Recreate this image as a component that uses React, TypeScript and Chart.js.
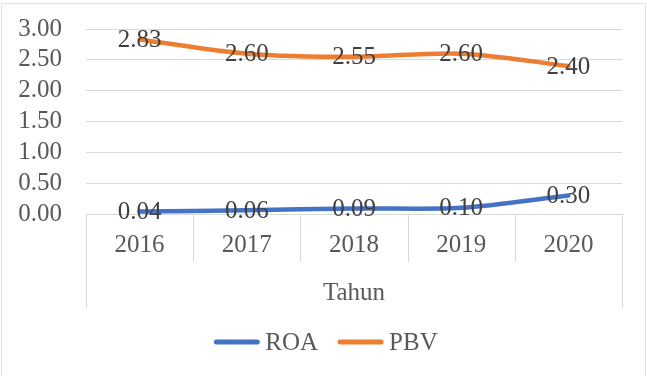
import React, { useEffect, useRef } from "react";
import { Chart, registerables } from "chart.js";

Chart.register(...registerables);

const years = ["2016", "2017", "2018", "2019", "2020"];
const roaValues = [0.04, 0.06, 0.09, 0.1, 0.3];
const pbvValues = [2.83, 2.6, 2.55, 2.6, 2.4];
const yTicks = [0, 0.5, 1, 1.5, 2, 2.5, 3];
const axisTitle = "Tahun";

const FONT = '"Liberation Serif", "Times New Roman", serif';
const TEXT = "#595959";
const GRID = "#d9d9d9";
const BLUE = "#4472C4";
const ORANGE = "#ED7D31";

// Plot area edges inside the 647x376 canvas
const PLOT_TOP = 29;
const PLOT_BOTTOM = 214;

// White background and a faint frame around the whole chart
const framePlugin = {
  id: "frame",
  beforeDraw(chart: any) {
    const { ctx, width, height } = chart;
    ctx.save();
    ctx.fillStyle = "#ffffff";
    ctx.fillRect(0, 0, width, height);
    ctx.strokeStyle = "#e2e2e2";
    ctx.lineWidth = 1;
    ctx.strokeRect(1.5, 3.5, 644, height + 20);
    ctx.restore();
  },
};

// Pin the plot area to fixed pixel edges after layout
const plotAreaPlugin = {
  id: "plotArea",
  afterLayout(chart: any) {
    const ca = chart.chartArea;
    ca.top = PLOT_TOP;
    ca.bottom = PLOT_BOTTOM;
    ca.height = PLOT_BOTTOM - PLOT_TOP;
    const y = chart.scales.y;
    y.top = PLOT_TOP;
    y.bottom = PLOT_BOTTOM;
    y.height = PLOT_BOTTOM - PLOT_TOP;
    y.configure();
    const x = chart.scales.x;
    x.top = PLOT_BOTTOM;
    x.bottom = chart.height;
    x.height = chart.height - PLOT_BOTTOM;
  },
};

// Category dividers under the axis; the outer two run down past the axis title
const dividersPlugin = {
  id: "dividers",
  afterDraw(chart: any) {
    const { ctx, chartArea } = chart;
    const x = chart.scales.x;
    const n = years.length;
    ctx.save();
    ctx.strokeStyle = GRID;
    ctx.lineWidth = 1;
    for (let i = 0; i <= n; i++) {
      let px: number;
      if (i === 0) px = x.left;
      else if (i === n) px = x.right;
      else px = (x.getPixelForValue(i - 1) + x.getPixelForValue(i)) / 2;
      const outer = i === 0 || i === n;
      const xr = Math.round(px) + 0.5;
      ctx.beginPath();
      ctx.moveTo(xr, chartArea.bottom);
      ctx.lineTo(xr, outer ? 308 : 262);
      ctx.stroke();
    }
    ctx.restore();
  },
};

// Value labels centred on each point
const valueLabelsPlugin = {
  id: "valueLabels",
  afterDatasetsDraw(chart: any) {
    const { ctx } = chart;
    ctx.save();
    ctx.font = `25px ${FONT}`;
    ctx.fillStyle = "#404040";
    ctx.textAlign = "center";
    ctx.textBaseline = "middle";
    chart.data.datasets.forEach((ds: any, di: number) => {
      const meta = chart.getDatasetMeta(di);
      meta.data.forEach((pt: any, i: number) => {
        ctx.fillText(Number(ds.data[i]).toFixed(2), pt.x, pt.y + 1);
      });
    });
    ctx.restore();
  },
};

// Legend with line swatches below the axis title
const legendPlugin = {
  id: "lineLegend",
  afterDraw(chart: any) {
    const { ctx } = chart;
    const items = chart.data.datasets.map((ds: any) => ({
      label: ds.label,
      color: ds.borderColor,
    }));
    const y = 342;
    const swatch = 45;
    const gapText = 6;
    const gapItem = 20;
    ctx.save();
    ctx.font = `25px ${FONT}`;
    const widths = items.map(
      (it: any) => swatch + gapText + ctx.measureText(it.label).width
    );
    const total =
      widths.reduce((a: number, b: number) => a + b, 0) +
      gapItem * (items.length - 1);
    let x = 326 - total / 2;
    items.forEach((it: any, i: number) => {
      ctx.strokeStyle = it.color;
      ctx.lineWidth = 5;
      ctx.lineCap = "round";
      ctx.beginPath();
      ctx.moveTo(x + 2, y);
      ctx.lineTo(x + swatch - 2, y);
      ctx.stroke();
      ctx.fillStyle = TEXT;
      ctx.textAlign = "left";
      ctx.textBaseline = "middle";
      ctx.fillText(it.label, x + swatch + gapText, y + 1);
      x += widths[i] + gapItem;
    });
    ctx.restore();
  },
};

export default function App() {
  const canvasRef = useRef<HTMLCanvasElement | null>(null);

  useEffect(() => {
    if (!canvasRef.current) return;
    const chart = new Chart(canvasRef.current, {
      type: "line",
      data: {
        labels: years,
        datasets: [
          {
            label: "ROA",
            data: roaValues,
            borderColor: BLUE,
            backgroundColor: BLUE,
            borderWidth: 4.5,
            pointRadius: 0,
            tension: 0.3,
            borderCapStyle: "round",
          },
          {
            label: "PBV",
            data: pbvValues,
            borderColor: ORANGE,
            backgroundColor: ORANGE,
            borderWidth: 4.5,
            pointRadius: 0,
            tension: 0.3,
            borderCapStyle: "round",
          },
        ],
      },
      options: {
        responsive: false,
        animation: false,
        layout: { padding: { left: 0, top: 18, right: 25, bottom: 0 } },
        plugins: {
          legend: { display: false },
          tooltip: { enabled: false },
        },
        scales: {
          x: {
            type: "category",
            offset: true,
            grid: { display: false, drawTicks: false },
            border: { display: true, color: GRID, width: 1 },
            ticks: {
              font: { family: FONT, size: 25 },
              color: TEXT,
              padding: 16,
              maxRotation: 0,
            },
            title: {
              display: true,
              text: axisTitle,
              font: { family: FONT, size: 25 },
              color: TEXT,
              padding: { top: 0, bottom: 68 },
            },
            afterFit(scale: any) {
              scale.height = 162;
            },
          },
          y: {
            min: yTicks[0],
            max: yTicks[yTicks.length - 1],
            afterBuildTicks(scale: any) {
              scale.ticks = yTicks.map((v) => ({ value: v }));
            },
            grid: { color: GRID, lineWidth: 1, drawTicks: false },
            border: { display: false },
            ticks: {
              autoSkip: false,
              font: { family: FONT, size: 25 },
              color: TEXT,
              padding: 24,
              callback: (v: any) => Number(v).toFixed(2),
            },
            afterFit(scale: any) {
              scale.width = 86;
            },
          },
        },
      },
      plugins: [framePlugin, plotAreaPlugin, dividersPlugin, valueLabelsPlugin, legendPlugin],
    } as any);
    return () => chart.destroy();
  }, []);

  return (
    <div
      style={{
        position: "fixed",
        left: 0,
        top: 0,
        width: 647,
        height: 376,
        background: "#fff",
      }}
    >
      <canvas ref={canvasRef} width={647} height={376} />
    </div>
  );
}
